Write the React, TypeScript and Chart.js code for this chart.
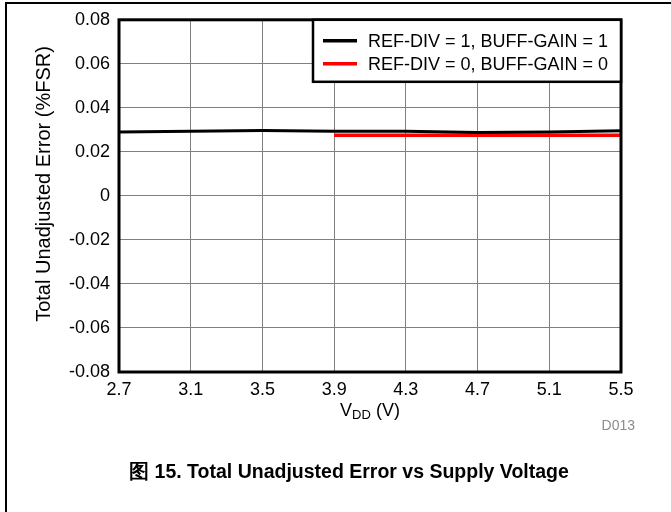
import React, { useEffect, useRef } from 'react';
import { Chart, registerables } from 'chart.js';

Chart.register(...registerables);

// ---- data ----
const xValues = [2.7, 3.1, 3.5, 3.9, 4.3, 4.7, 5.1, 5.5];
const refDiv1Values = [0.029, 0.0294, 0.0297, 0.0294, 0.0294, 0.0288, 0.029, 0.0296];
const refDiv0Values: (number | null)[] = [null, null, null, 0.0276, 0.0276, 0.0275, 0.0276, 0.0276];
const yTickValues = [-0.08, -0.06, -0.04, -0.02, 0, 0.02, 0.04, 0.06, 0.08];
const seriesLabels = ['REF-DIV = 1, BUFF-GAIN = 1', 'REF-DIV = 0, BUFF-GAIN = 0'];
const seriesColors = ['#000000', '#ff0000'];
const yTitle = 'Total Unadjusted Error (%FSR)';
const figureId = 'D013';
const caption = '图 15. Total Unadjusted Error vs Supply Voltage';

const FONT = '"Liberation Sans", Arial, Helvetica, sans-serif';

const decorPlugin = {
  id: 'decor',
  afterDraw(chart: any) {
    const { ctx, chartArea } = chart;
    const { left, right, top, bottom } = chartArea;
    ctx.save();
    // plot frame
    ctx.strokeStyle = '#000';
    ctx.lineWidth = 3;
    ctx.strokeRect(left, top, right - left, bottom - top);

    // legend box
    const boxW = 308;
    const boxH = 62;
    const bx = right - boxW;
    const by = top;
    ctx.fillStyle = '#fff';
    ctx.fillRect(bx, by, boxW, boxH);
    ctx.lineWidth = 2.5;
    ctx.strokeRect(bx, by, boxW, boxH);
    ctx.font = `18px ${FONT}`;
    ctx.textBaseline = 'middle';
    ctx.textAlign = 'left';
    chart.data.datasets.forEach((ds: any, i: number) => {
      const ly = by + 21 + i * 23;
      ctx.strokeStyle = ds.borderColor;
      ctx.lineWidth = 3.5;
      ctx.beginPath();
      ctx.moveTo(bx + 10, ly);
      ctx.lineTo(bx + 44, ly);
      ctx.stroke();
      ctx.fillStyle = '#000';
      ctx.fillText(ds.label, bx + 55, ly + 1);
    });

    // y title
    ctx.save();
    ctx.translate(44, 184);
    ctx.rotate(-Math.PI / 2);
    ctx.font = `20px ${FONT}`;
    ctx.textAlign = 'center';
    ctx.textBaseline = 'middle';
    ctx.fillStyle = '#000';
    ctx.fillText(yTitle, 0, 0);
    ctx.restore();

    // x title V_DD (V)
    const cx = (left + right) / 2;
    const ty = 411;
    ctx.fillStyle = '#000';
    ctx.textBaseline = 'middle';
    ctx.textAlign = 'left';
    const bigFont = `18px ${FONT}`;
    const smallFont = `13px ${FONT}`;
    ctx.font = bigFont;
    const wV = ctx.measureText('V').width;
    const wRest = ctx.measureText(' (V)').width;
    ctx.font = smallFont;
    const wSub = ctx.measureText('DD').width;
    const total = wV + wSub + wRest;
    let sx = cx - total / 2;
    ctx.font = bigFont;
    ctx.fillText('V', sx, ty);
    sx += wV;
    ctx.font = smallFont;
    ctx.fillText('DD', sx, ty + 4);
    sx += wSub;
    ctx.font = bigFont;
    ctx.fillText(' (V)', sx, ty);

    // figure id
    ctx.font = `14px ${FONT}`;
    ctx.fillStyle = '#8c8c8c';
    ctx.textAlign = 'right';
    ctx.fillText(figureId, 635, 426);
    ctx.restore();
  },
};

export default function App() {
  const canvasRef = useRef<HTMLCanvasElement | null>(null);

  useEffect(() => {
    if (!canvasRef.current) return;
    const chart = new Chart(canvasRef.current, {
      type: 'line',
      data: {
        datasets: [
          {
            label: seriesLabels[0],
            data: xValues.map((x, i) => ({ x, y: refDiv1Values[i] })),
            borderColor: seriesColors[0],
            backgroundColor: seriesColors[0],
            borderWidth: 3,
            pointRadius: 0,
            tension: 0,
          },
          {
            label: seriesLabels[1],
            data: xValues.map((x, i) => ({ x, y: refDiv0Values[i] })) as any,
            borderColor: seriesColors[1],
            backgroundColor: seriesColors[1],
            borderWidth: 3.5,
            pointRadius: 0,
            tension: 0,
            spanGaps: false,
          },
        ],
      },
      options: {
        responsive: false,
        animation: false,
        devicePixelRatio: 1,
        layout: { padding: { left: 0, right: 50, top: 18, bottom: 110 } },
        plugins: {
          legend: { display: false },
          tooltip: { enabled: false },
          title: { display: false },
        },
        scales: {
          x: {
            type: 'linear',
            min: xValues[0],
            max: xValues[xValues.length - 1],
            afterBuildTicks: (scale: any) => {
              scale.ticks = xValues.map((v) => ({ value: v }));
            },
            afterFit: (scale: any) => {
              scale.height = 30;
            },
            ticks: {
              padding: 7,
              color: '#000',
              font: { family: FONT, size: 18 },
              maxRotation: 0,
              autoSkip: false,
              callback: (v: any) => Number(v).toFixed(1),
            },
            grid: { color: '#808080', lineWidth: 1, drawTicks: false },
            border: { display: false },
          },
          y: {
            type: 'linear',
            min: yTickValues[0],
            max: yTickValues[yTickValues.length - 1],
            afterBuildTicks: (scale: any) => {
              scale.ticks = yTickValues.map((v) => ({ value: v }));
            },
            afterFit: (scale: any) => {
              scale.width = 119;
            },
            ticks: {
              padding: 9,
              color: '#000',
              font: { family: FONT, size: 18 },
              autoSkip: false,
              callback: (v: any) => {
                const n = Number(v);
                return Math.abs(n) < 1e-9 ? '0' : n.toFixed(2);
              },
            },
            grid: { color: '#808080', lineWidth: 1, drawTicks: false },
            border: { display: false },
          },
        },
      },
      plugins: [decorPlugin],
    });
    return () => chart.destroy();
  }, []);

  return (
    <div
      style={{
        position: 'fixed',
        left: 0,
        top: 0,
        width: 671,
        height: 512,
        background: '#fff',
        overflow: 'hidden',
      }}
    >
      <canvas ref={canvasRef} width={671} height={512} style={{ position: 'absolute', left: 0, top: 0 }} />
      <div
        style={{
          position: 'absolute',
          left: 5,
          top: 2,
          width: 700,
          height: 600,
          borderLeft: '2px solid #000',
          borderTop: '2px solid #000',
          pointerEvents: 'none',
        }}
      />
      <div
        style={{
          position: 'absolute',
          left: 0,
          width: 698,
          top: 458,
          textAlign: 'center',
          fontFamily: FONT,
          fontWeight: 'bold',
          fontSize: 19.5,
          color: '#000',
          whiteSpace: 'nowrap',
        }}
      >
        {caption}
      </div>
    </div>
  );
}
